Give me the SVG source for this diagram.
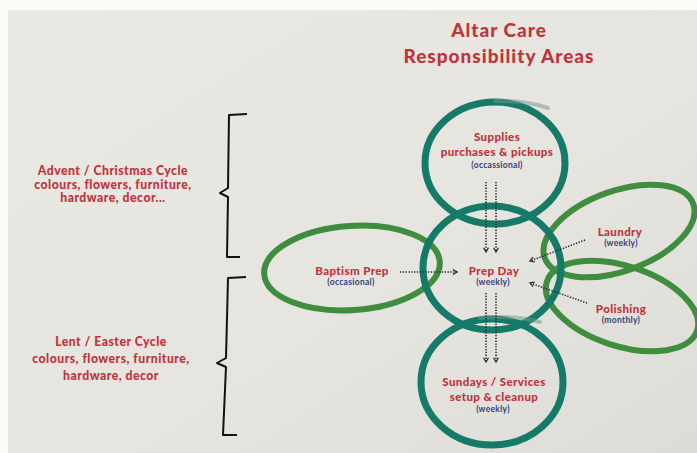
<svg xmlns="http://www.w3.org/2000/svg" width="697" height="453" viewBox="0 0 697 453">
<defs>
<linearGradient id="paper" x1="0" y1="0" x2="1" y2="1">
<stop offset="0" stop-color="#ebe9e4"/>
<stop offset="0.6" stop-color="#e6e4de"/>
<stop offset="1" stop-color="#dedcd6"/>
</linearGradient>
<marker id="chev" viewBox="0 0 10 10" refX="8" refY="5" markerWidth="7" markerHeight="7" orient="auto" markerUnits="userSpaceOnUse">
<path d="M2,1.5 L8,5 L2,8.5" fill="none" stroke="#2a2a2a" stroke-width="1.8"/>
</marker>
<style>
.red{font-family:Lato,"Liberation Sans",sans-serif;font-weight:900;fill:#c1333b;text-anchor:middle;letter-spacing:0.4px}
.big{font-size:19px;letter-spacing:1px}
.side{font-size:12.2px;letter-spacing:0.5px}
.lbl{font-size:11.5px}
.sub{font-family:Lato,"Liberation Sans",sans-serif;font-weight:700;fill:#34407a;text-anchor:middle;font-size:8.5px;letter-spacing:0.3px}
.teal{fill:none;stroke:#167a68;stroke-width:7}
.tail{fill:none;stroke:#6f958c;stroke-width:4;opacity:0.5;stroke-linecap:round}
.green{fill:none;stroke:#3f8d3f;stroke-width:6}
.dot{fill:none;stroke:#2a2a2a;stroke-width:1.6;stroke-dasharray:1.3 1.5}
.brace{fill:none;stroke:#111;stroke-width:2;stroke-linejoin:round}
</style>
</defs>
<rect width="697" height="453" fill="#fbfbfa"/>
<rect x="8" y="10" width="689" height="443" fill="url(#paper)"/>

<g id="title">
<text class="red big" x="499" y="37">Altar Care</text>
<text class="red big" x="499" y="63">Responsibility Areas</text>
</g>

<g id="advent">
<text class="red side" x="113" y="175">Advent / Christmas Cycle</text>
<text class="red side" x="113" y="188.5">colours, flowers, furniture,</text>
<text class="red side" x="113" y="202">hardware, decor...</text>
<path class="brace" d="M247,114 L229,115 L228,188 L220,193 L228,197 L227,257 L240,257"/>
</g>

<g id="lent">
<text class="red side" x="111" y="346">Lent / Easter Cycle</text>
<text class="red side" x="111" y="363">colours, flowers, furniture,</text>
<text class="red side" x="111" y="380">hardware, decor</text>
<path class="brace" d="M246,277 L228,278 L226,358 L217,363 L226,367 L223,435 L237,435"/>
</g>

<g id="baptism">
<ellipse class="green" cx="352" cy="268" rx="88" ry="42" transform="rotate(-4 352 268)"/>
<path d="M280,246 Q300,233 325,228" fill="none" stroke="#3f8d3f" stroke-width="3" opacity="0.7"/>
<text class="red lbl" x="352" y="275">Baptism Prep</text>
<text class="sub" x="351" y="285">(occasional)</text>
</g>

<g id="laundry">
<ellipse class="green" cx="619" cy="231" rx="79" ry="40" transform="rotate(-20 619 231)"/>
<text class="red lbl" x="620" y="236">Laundry</text>
<text class="sub" x="621" y="246">(weekly)</text>
</g>

<g id="polishing">
<ellipse class="green" cx="622" cy="306" rx="79" ry="40" transform="rotate(18 622 306)"/>
<text class="red lbl" x="621" y="313">Polishing</text>
<text class="sub" x="621" y="323">(monthly)</text>
</g>

<g id="supplies">
<ellipse class="teal" cx="495" cy="163" rx="70" ry="61"/>
<path class="tail" d="M495,101 Q525,100 548,108"/>
<text class="red lbl" x="497" y="141">Supplies</text>
<text class="red lbl" x="497" y="156">purchases &amp; pickups</text>
<text class="sub" x="497" y="168">(occassional)</text>
</g>

<g id="prepday">
<ellipse class="teal" cx="492" cy="268" rx="69" ry="62"/>
<text class="red lbl" x="494" y="275">Prep Day</text>
<text class="sub" x="493" y="285">(weekly)</text>
</g>

<g id="sundays">
<ellipse class="teal" cx="492" cy="382" rx="71" ry="63"/>
<path class="tail" d="M480,318 Q515,315 540,322"/>
<text class="red lbl" x="494" y="386">Sundays / Services</text>
<text class="red lbl" x="494" y="401">setup &amp; cleanup</text>
<text class="sub" x="493" y="412">(weekly)</text>
</g>

<g id="connectors">
<path class="dot" d="M486,182 L486,252" marker-end="url(#chev)"/>
<path class="dot" d="M496,182 L496,252" marker-end="url(#chev)"/>
<path class="dot" d="M486,293 L486,362" marker-end="url(#chev)"/>
<path class="dot" d="M496,293 L496,362" marker-end="url(#chev)"/>
<path class="dot" d="M400,272 L457,272" marker-end="url(#chev)"/>
<path class="dot" d="M585,240 L530,261" marker-end="url(#chev)"/>
<path class="dot" d="M587,303 L530,283" marker-end="url(#chev)"/>
</g>
</svg>
